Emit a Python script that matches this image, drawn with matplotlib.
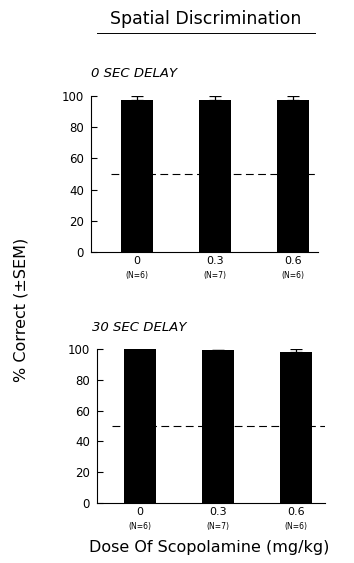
import matplotlib
matplotlib.use("Agg")
import matplotlib.pyplot as plt
from matplotlib.lines import Line2D

# doses and group sizes
doses = ["0", "0.3", "0.6"]
group_n = ["(N=6)", "(N=7)", "(N=6)"]

# % correct (mean, SEM)
delay0_mean = [97.5, 97.5, 97.5]
delay0_sem = [2.2, 2.3, 2.6]
delay30_mean = [100.0, 99.5, 98.2]
delay30_sem = [0.0, 0.0, 1.6]

chance = 50
yticks = [0, 20, 40, 60, 80, 100]

plt.rcParams["font.family"] = ["DejaVu Sans"]

fig = plt.figure(figsize=(3.54, 5.63), dpi=100)

panels = [
    ("0 SEC DELAY", delay0_mean, delay0_sem,
     [0.257, 0.552, 0.641, 0.278], (-0.59, 2.32), (0.09, 1.0), 0.0),
    ("30 SEC DELAY", delay30_mean, delay30_sem,
     [0.274, 0.107, 0.644, 0.273], (-0.55, 2.37), (0.066, 1.0), -0.02),
]

for title, mean, sem, rect, xlim, dash_span, title_x in panels:
    ax = fig.add_axes(rect)
    x = list(range(len(doses)))
    ax.bar(x, mean, width=0.41, color="black", zorder=2)
    ax.errorbar(x, mean, yerr=[[0] * len(sem), sem], fmt="none",
                ecolor="black", elinewidth=0.9, capsize=4, capthick=0.9,
                zorder=3)
    ax.axhline(chance, xmin=dash_span[0], xmax=dash_span[1], color="black",
               linestyle=(0, (7, 4)), linewidth=0.8, zorder=1)
    ax.set_xlim(*xlim)
    ax.set_ylim(0, 100)
    ax.set_yticks(yticks)
    ax.set_yticklabels([str(t) for t in yticks], fontsize=8.5)
    ax.set_xticks(x)
    ax.set_xticklabels(doses, fontsize=8)
    ax.tick_params(axis="x", length=0, pad=3)
    ax.tick_params(axis="y", direction="in", length=4, width=0.8, pad=5)
    for i, lab in enumerate(group_n):
        ax.annotate(lab, xy=(i, 0), xycoords="data", xytext=(0, -17),
                    textcoords="offset points", ha="center", va="center",
                    fontsize=5.5)
    for side in ("top", "right"):
        ax.spines[side].set_visible(False)
    for side in ("left", "bottom"):
        ax.spines[side].set_linewidth(0.8)
    ax.text(title_x, 1.10, title, transform=ax.transAxes, fontsize=9.5,
            fontstyle="italic", ha="left", va="bottom")

fig.text(0.58, 0.967, "Spatial Discrimination", ha="center", va="center",
         fontsize=12.5)
fig.add_artist(Line2D([0.275, 0.89], [0.942, 0.942], color="black",
                      linewidth=0.7, transform=fig.transFigure))
fig.text(0.06, 0.45, "% Correct (\u00b1SEM)", rotation=90, ha="center",
         va="center", fontsize=11.5)
fig.text(0.59, 0.027, "Dose Of Scopolamine (mg/kg)", ha="center",
         va="center", fontsize=11.5)

fig.savefig("out.png", dpi=100)
